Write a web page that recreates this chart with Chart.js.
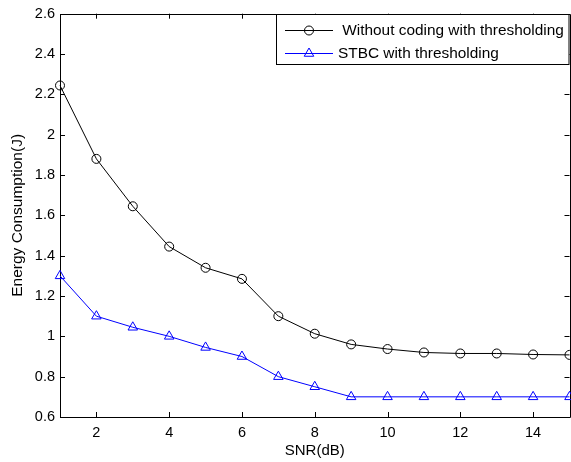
<!DOCTYPE html>
<html><head><meta charset="utf-8">
<style>html,body{margin:0;padding:0;overflow:hidden;background:#fff}</style>
<script src="https://cdn.jsdelivr.net/npm/chart.js@4"></script>
</head><body>
<canvas id="c" width="576" height="462"></canvas>
<script>
const snr = [1,2,3,4,5,6,7,8,9,10,11,12,13,14,15];
const withoutCoding = [2.244,1.88,1.645,1.445,1.34,1.285,1.10,1.013,0.96,0.937,0.92,0.915,0.915,0.91,0.908];
const stbc = [1.30,1.10,1.045,1.0,0.945,0.90,0.80,0.75,0.70,0.70,0.70,0.70,0.70,0.70,0.70];
const xTicks = [2,4,6,8,10,12,14];
const yTicks = [0.6,0.8,1.0,1.2,1.4,1.6,1.8,2.0,2.2,2.4,2.6];
const seriesLabels = [' Without coding with thresholding','STBC with thresholding'];
const xTitle = 'SNR(dB)';
const yTitle = 'Energy Consumption(J)';

const FONT = '"Liberation Sans", Arial, sans-serif';
Chart.defaults.font.family = FONT;
Chart.defaults.color = '#000';

const framePlugin = {
  id: 'frame',
  beforeDatasetsDraw(chart) {
    const {ctx, chartArea: a, scales: {x, y}} = chart;
    ctx.save();
    ctx.strokeStyle = '#000';
    ctx.lineWidth = 1;
    ctx.beginPath();
    ctx.rect(Math.round(a.left)+0.5, Math.round(a.top)+0.5, Math.round(a.right-a.left), Math.round(a.bottom-a.top));
    const L = 5;
    xTicks.forEach(v => {
      const px = Math.round(x.getPixelForValue(v)) + 0.5;
      ctx.moveTo(px, a.bottom); ctx.lineTo(px, a.bottom - L);
      ctx.moveTo(px, a.top); ctx.lineTo(px, a.top + L);
    });
    yTicks.forEach(v => {
      const py = Math.round(y.getPixelForValue(v)) + 0.5;
      ctx.moveTo(a.left, py); ctx.lineTo(a.left + L, py);
      ctx.moveTo(a.right, py); ctx.lineTo(a.right - L, py);
    });
    ctx.stroke();
    ctx.restore();
  },
  afterDraw(chart) {
    const {ctx, chartArea: a} = chart;
    const bx = 276.5, by = Math.round(a.top) + 0.5, bw = Math.round(a.right) - 1 - bx, bh = 50;
    ctx.save();
    ctx.fillStyle = '#fff';
    ctx.fillRect(bx, by, bw, bh);
    ctx.strokeStyle = '#000';
    ctx.lineWidth = 1;
    ctx.strokeRect(bx, by, bw, bh);
    const rows = [by + 16, by + 39];
    chart.data.datasets.forEach((ds, i) => {
      const yy = rows[i];
      ctx.strokeStyle = ds.borderColor;
      ctx.lineWidth = 1;
      ctx.beginPath(); ctx.moveTo(285, yy); ctx.lineTo(333, yy); ctx.stroke();
      ctx.fillStyle = 'rgba(0,0,0,0)';
      ctx.strokeStyle = ds.borderColor;
      Chart.helpers.drawPoint(ctx, {pointStyle: ds.pointStyle, radius: ds.pointRadius, borderWidth: 1, rotation: 0}, 309, yy);
      ctx.fillStyle = '#000';
      ctx.font = '15.4px ' + FONT;
      ctx.textBaseline = 'middle';
      ctx.textAlign = 'left';
      ctx.fillText(ds.label, 338, yy);
    });
    ctx.restore();
  }
};

new Chart(document.getElementById('c'), {
  type: 'line',
  data: {
    datasets: [
      {label: seriesLabels[0], data: snr.map((s,i)=>({x:s,y:withoutCoding[i]})), borderColor:'#000', backgroundColor:'rgba(0,0,0,0)', borderWidth:1, pointStyle:'circle', pointRadius:4.5, pointBorderWidth:1, pointBackgroundColor:'rgba(0,0,0,0)', pointBorderColor:'#000', clip:false, tension:0},
      {label: seriesLabels[1], data: snr.map((s,i)=>({x:s,y:stbc[i]})), borderColor:'#0000ff', backgroundColor:'rgba(0,0,0,0)', borderWidth:1, pointStyle:'triangle', pointRadius:5.5, pointBorderWidth:1, pointBackgroundColor:'rgba(0,0,0,0)', pointBorderColor:'#0000ff', clip:false, tension:0}
    ]
  },
  options: {
    responsive: false,
    animation: false,
    layout: {padding: {top: 13, right: 3, left: 0, bottom: 0}},
    plugins: {legend: {display: false}, tooltip: {enabled: false}},
    scales: {
      x: {
        type: 'linear', min: 1, max: 15,
        afterBuildTicks: s => { s.ticks = xTicks.map(v => ({value: v})); },
        afterFit: s => { s.height = 45; },
        grid: {display: false, drawTicks: false},
        border: {display: false},
        ticks: {font: {size: 14.5}, padding: 7, maxRotation: 0},
        title: {display: true, text: xTitle, font: {size: 15}, padding: {top: 0, bottom: 2}}
      },
      y: {
        type: 'linear', min: 0.6, max: 2.6,
        afterBuildTicks: s => { s.ticks = yTicks.map(v => ({value: v})); },
        afterFit: s => { s.width = 60; },
        grid: {display: false, drawTicks: false},
        border: {display: false},
        ticks: {font: {size: 14.5}, padding: 5, callback: v => String(Math.round(v*10)/10)},
        title: {display: true, text: yTitle, font: {size: 15.5}, padding: {top: 8, bottom: 0}}
      }
    }
  },
  plugins: [framePlugin]
});
</script>
</body></html>
